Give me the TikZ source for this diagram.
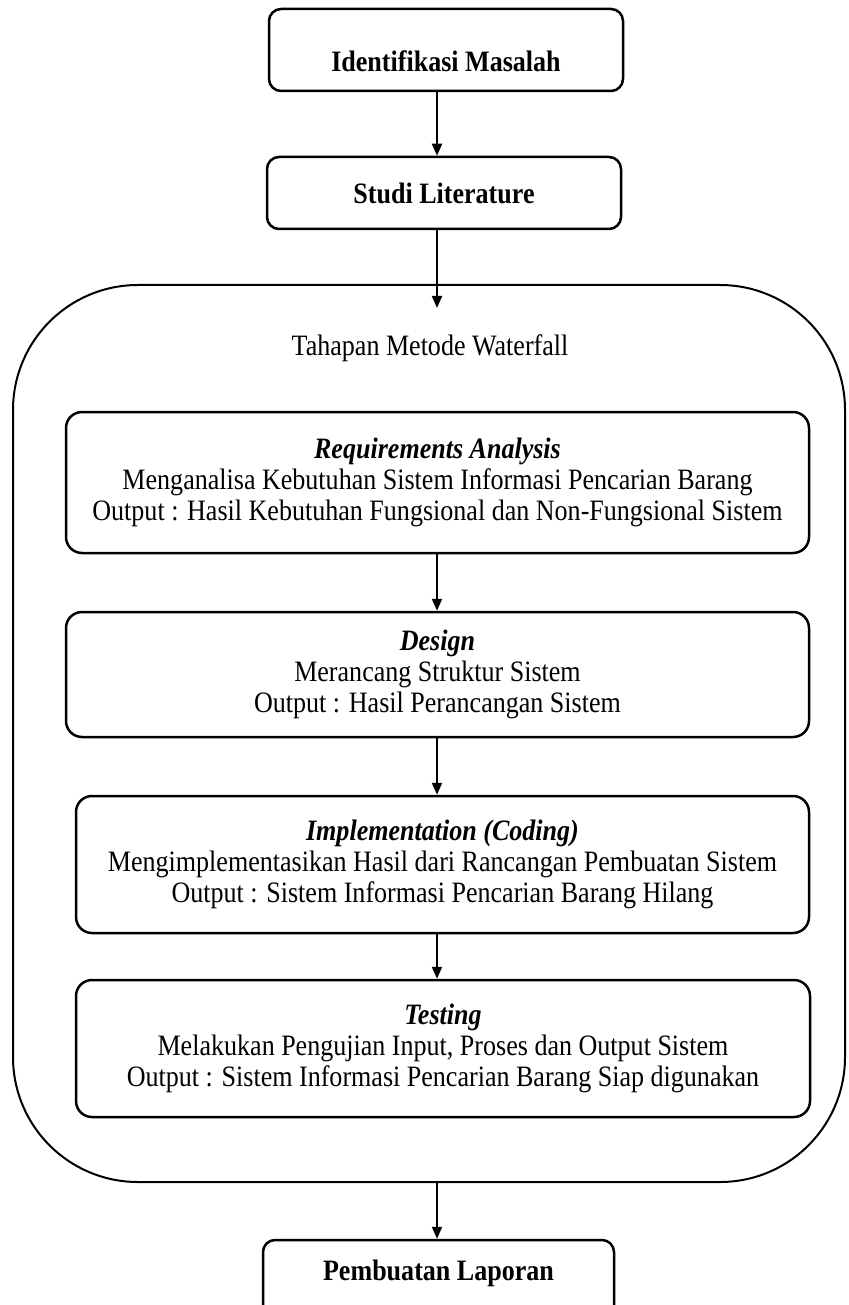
\documentclass[tikz,border=0pt]{standalone}
\usepackage{fontspec}
\setmainfont{Liberation Serif}[FakeStretch=0.88]
\usetikzlibrary{arrows.meta}

\begin{document}
\begin{tikzpicture}[x=1pt,y=-1pt]
  \fontsize{29.6}{31}\selectfont
  \tikzstyle{tahap}=[draw, line width=2.5pt, rounded corners=16pt, align=center, inner sep=0pt]
  \tikzstyle{kotak}=[tahap, rounded corners=12pt, font=\bfseries, inner ysep=4pt, anchor=base]
  \tikzstyle{alur}=[draw, line width=2pt, -{Triangle[length=12pt,width=10pt]}]

  \useasboundingbox (0,0) rectangle (848,1305);
  \coordinate (axis) at (437,0);

  \node[kotak, minimum width=354pt, text height=59pt, text depth=15pt] (masalah) at (446,72) {Identifikasi Masalah};
  \node[tahap, font=\bfseries, rounded corners=12pt, minimum width=354pt, minimum height=72pt] (studi) at (444,193) {Studi Literature};

  \node[draw, line width=2pt, rounded corners=125pt, minimum width=832pt, minimum height=897pt] (waterfall) at (429,733.5) {};
  \node[anchor=base] (judul) at (430,355) {Tahapan Metode Waterfall};
  \coordinate (masuk) at (437,308);

  \node[tahap, minimum width=743pt, minimum height=141pt] (analisis) at (437.5,482.5)
    {\textbf{\textit{Requirements Analysis}}\\
     Menganalisa Kebutuhan Sistem Informasi Pencarian Barang\\
     Output : Hasil Kebutuhan Fungsional dan Non-Fungsional Sistem};
  \node[tahap, minimum width=743pt, minimum height=125pt] (desain) at (437.5,674.5)
    {\textbf{\textit{Design}}\\
     Merancang Struktur Sistem\\
     Output : Hasil Perancangan Sistem};
  \node[tahap, minimum width=733pt, minimum height=137pt] (koding) at (442.5,864.5)
    {\textbf{\textit{Implementation (Coding)}}\\
     Mengimplementasikan Hasil dari Rancangan Pembuatan Sistem\\
     Output : Sistem Informasi Pencarian Barang Hilang};
  \node[tahap, minimum width=734pt, minimum height=137pt] (testing) at (443,1048.5)
    {\textbf{\textit{Testing}}\\
     Melakukan Pengujian Input, Proses dan Output Sistem\\
     Output : Sistem Informasi Pencarian Barang Siap digunakan};

  \node[kotak, minimum width=351pt, text height=36pt, text depth=50pt] (laporan) at (438.5,1280) {Pembuatan Laporan};

  \draw[alur] (masalah.south -| axis) -- (studi.north -| axis);
  \draw[alur] (studi.south -| axis) -- (masuk);
  \draw[alur] (analisis.south -| axis) -- (desain.north -| axis);
  \draw[alur] (desain.south -| axis) -- (koding.north -| axis);
  \draw[alur] (koding.south -| axis) -- (testing.north -| axis);
  \draw[alur] (waterfall.south -| axis) -- (laporan.north -| axis);
\end{tikzpicture}
\end{document}
